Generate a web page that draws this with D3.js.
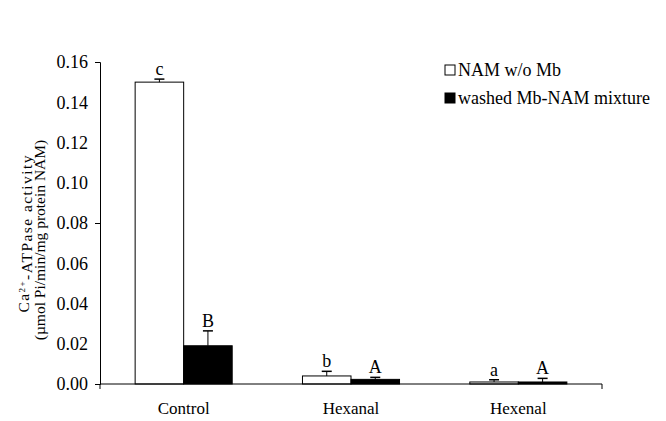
<!DOCTYPE html>
<html>
<head>
<meta charset="utf-8">
<script src="https://cdn.jsdelivr.net/npm/d3@7"></script>
<style>
  body { margin: 0; background: #fff; }
</style>
</head>
<body>
<div id="chart"></div>
<script>
var categories = ['Control', 'Hexanal', 'Hexenal'];
var seriesNames = ['NAM w/o Mb', 'washed Mb-NAM mixture'];
var namValues = [0.150, 0.004, 0.001];
var namErrors = [0.0015, 0.0023, 0.0011];
var namLetters = ['c', 'b', 'a'];
var mixValues = [0.019, 0.0023, 0.001];
var mixErrors = [0.0074, 0.001, 0.0018];
var mixLetters = ['B', 'A', 'A'];
var yTicks = [0, 0.02, 0.04, 0.06, 0.08, 0.10, 0.12, 0.14, 0.16];
var yTickMarks = [0, 0.08, 0.16];

var width = 666, height = 421;
var margin = {top: 62, right: 64, bottom: 37, left: 100};
var serif = '"Liberation Serif", "Times New Roman", Tinos, "DejaVu Serif", serif';

var svg = d3.select('#chart').append('svg')
  .attr('width', width)
  .attr('height', height)
  .attr('font-family', serif)
  .style('font-family', serif);

var x = d3.scaleBand()
  .domain(categories)
  .range([margin.left, width - margin.right])
  .paddingInner(0.42)
  .paddingOuter(0.21);

var sub = d3.scaleBand()
  .domain(seriesNames)
  .range([0, x.bandwidth()]);

var y = d3.scaleLinear()
  .domain([0, 0.16])
  .range([height - margin.bottom, margin.top]);

var rows = [];
categories.forEach(function(c, i) {
  rows.push({cat: c, s: seriesNames[0], v: namValues[i], e: namErrors[i], l: namLetters[i], fill: '#fff'});
  rows.push({cat: c, s: seriesNames[1], v: mixValues[i], e: mixErrors[i], l: mixLetters[i], fill: '#000'});
});

// bars
svg.append('g').selectAll('rect')
  .data(rows)
  .enter()
  .append('rect')
  .attr('x', function(d) { return x(d.cat) + sub(d.s); })
  .attr('y', function(d) { return y(d.v); })
  .attr('width', sub.bandwidth())
  .attr('height', function(d) { return y(0) - y(d.v); })
  .attr('fill', function(d) { return d.fill; })
  .attr('stroke', '#000')
  .attr('stroke-width', 1);

// error bars (upper only)
var err = svg.append('g').selectAll('g')
  .data(rows)
  .enter()
  .append('g')
  .attr('transform', function(d) { return 'translate(' + (x(d.cat) + sub(d.s) + sub.bandwidth() / 2) + ',0)'; });
err.append('line')
  .attr('x1', 0).attr('x2', 0)
  .attr('y1', function(d) { return y(d.v); })
  .attr('y2', function(d) { return y(d.v + d.e); })
  .attr('stroke', '#000');
err.append('line')
  .attr('x1', -5).attr('x2', 5)
  .attr('y1', function(d) { return y(d.v + d.e); })
  .attr('y2', function(d) { return y(d.v + d.e); })
  .attr('stroke', '#000')
  .attr('stroke-width', 1.5);
err.append('text')
  .attr('y', function(d) { return y(d.v + d.e) - 4; })
  .attr('text-anchor', 'middle')
  .style('font-size', '18px')
  .text(function(d) { return d.l; });

// y axis
var yAxis = svg.append('g')
  .attr('transform', 'translate(' + margin.left + ',0)')
  .call(d3.axisLeft(y).tickValues(yTickMarks).tickSize(5).tickFormat(''));
yAxis.select('.domain').attr('stroke', '#000');
yAxis.selectAll('line').attr('stroke', '#000');
svg.append('g').selectAll('text')
  .data(yTicks)
  .enter()
  .append('text')
  .attr('x', margin.left - 12)
  .attr('y', function(d) { return y(d); })
  .attr('dy', '0.35em')
  .attr('text-anchor', 'end')
  .style('font-size', '18px')
  .text(function(d) { return d3.format('.2f')(d); });

// x axis
var xAxisY = y(0);
svg.append('line')
  .attr('x1', margin.left).attr('x2', width - margin.right)
  .attr('y1', xAxisY).attr('y2', xAxisY)
  .attr('stroke', '#000');
[margin.left, width - margin.right].forEach(function(px) {
  svg.append('line')
    .attr('x1', px).attr('x2', px)
    .attr('y1', xAxisY).attr('y2', xAxisY + 5)
    .attr('stroke', '#000');
});
svg.append('g').selectAll('text')
  .data(categories)
  .enter()
  .append('text')
  .attr('x', function(d) { return x(d) + x.bandwidth() / 2; })
  .attr('y', xAxisY + 30)
  .attr('text-anchor', 'middle')
  .style('font-size', '17px')
  .text(function(d) { return d; });

// y title
var yTitle = svg.append('text')
  .attr('transform', 'translate(29,234) rotate(-90)')
  .attr('text-anchor', 'middle')
  .attr('textLength', 157)
  .attr('lengthAdjust', 'spacing')
  .style('font-size', '15.5px');
yTitle.append('tspan').text('Ca');
yTitle.append('tspan').attr('dy', '-0.45em').style('font-size', '9px').text('2+');
yTitle.append('tspan').attr('dy', '0.45em').text('-ATPase activity');
svg.append('text')
  .attr('transform', 'translate(45,240) rotate(-90)')
  .attr('text-anchor', 'middle')
  .style('font-size', '15.5px')
  .text('(\u00b5mol Pi/min/mg protein NAM)');

// legend
var legend = svg.append('g').selectAll('g')
  .data(seriesNames)
  .enter()
  .append('g')
  .attr('transform', function(d, i) { return 'translate(445,' + (70 + i * 28) + ')'; });
legend.append('rect')
  .attr('x', 0).attr('y', -5)
  .attr('width', 10).attr('height', 10)
  .attr('fill', function(d, i) { return i === 0 ? '#fff' : '#000'; })
  .attr('stroke', '#000');
legend.append('text')
  .attr('x', 13)
  .attr('dy', '0.35em')
  .style('font-size', '18px')
  .text(function(d) { return d; });
</script>
</body>
</html>
